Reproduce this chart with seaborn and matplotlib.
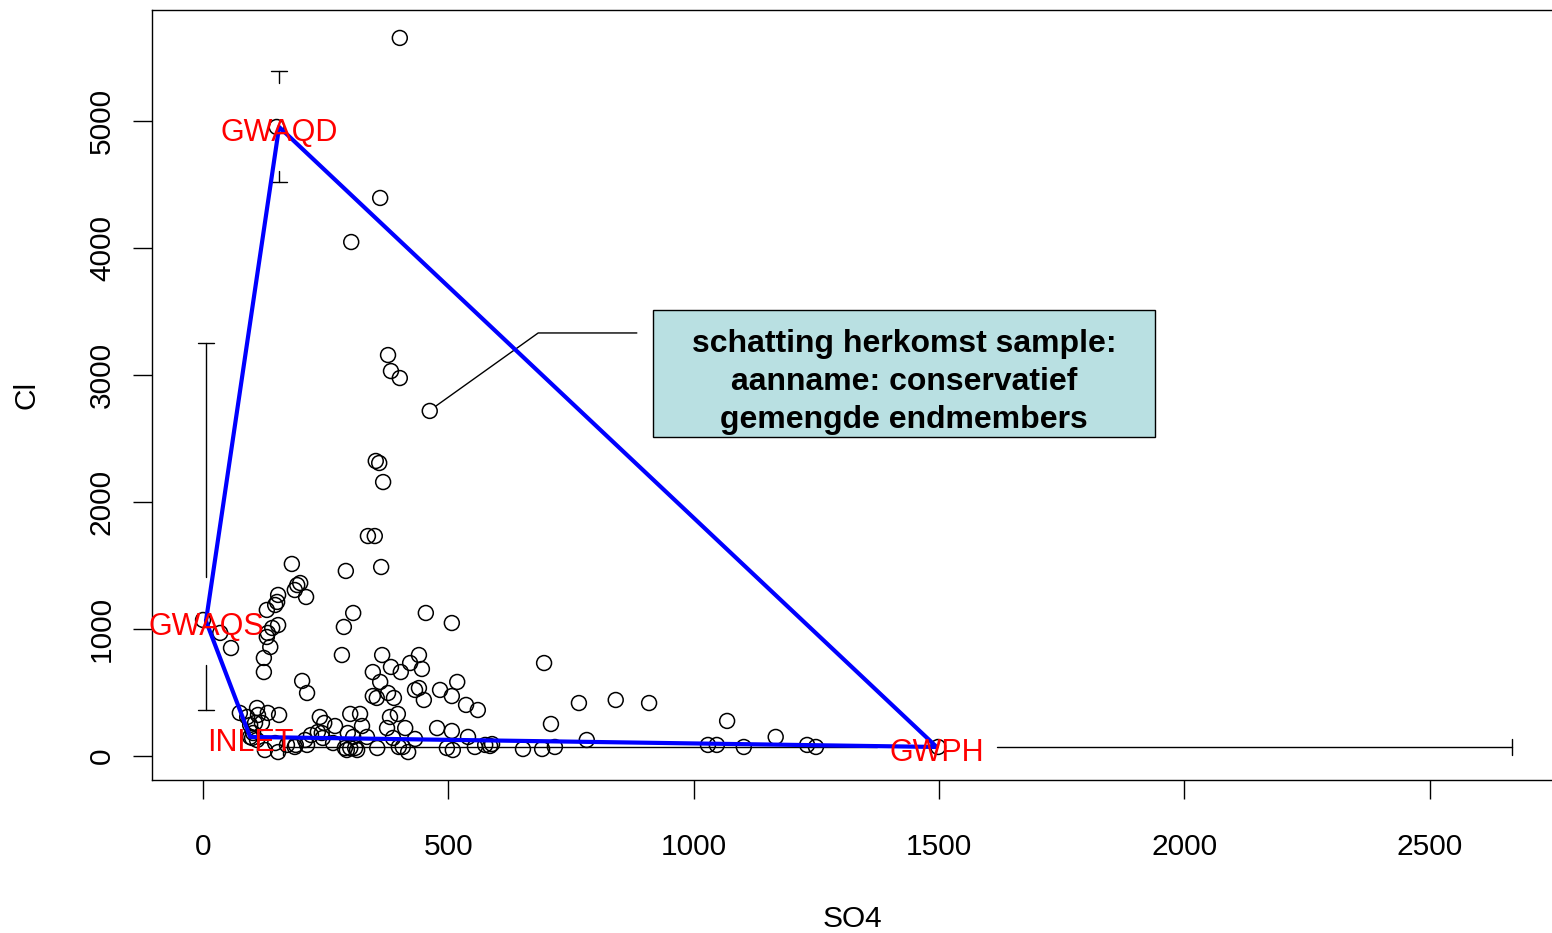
import numpy as np
import pandas as pd
import matplotlib
matplotlib.use('Agg')
import matplotlib.pyplot as plt
import matplotlib.transforms as mtransforms
from matplotlib.patches import Rectangle
import seaborn as sns

# samples: SO4 en Cl (mg/l)
so4 = [401, 361, 302, 377, 383, 401, 462, 352, 359, 367,
       336, 350, 363, 291, 181, 192, 198, 187, 210, 153,
       151, 147, 130, 153, 141, 132, 130, 137, 124, 124,
       35, 57, 202, 212, 306, 454, 507, 287, 283, 365,
       440, 422, 346, 383, 403, 446, 361, 518, 695, 346,
       354, 377, 389, 432, 440, 450, 483, 507, 536, 560,
       766, 841, 909, 709, 1068, 300, 320, 324, 381, 397,
       375, 412, 477, 507, 238, 247, 269, 220, 242, 295,
       306, 334, 387, 432, 540, 265, 289, 300, 310, 314,
       293, 355, 399, 407, 418, 497, 509, 554, 575, 585,
       589, 652, 691, 717, 782, 1029, 1047, 1102, 1167, 1231,
       1249, 1498, 189, 212, 244, 171, 153, 126, 147, 102,
       100, 110, 96, 110, 75, 90, 112, 132, 155, 106,
       120, 96, 234, 208, 187, 0, 150]
cl = [5654, 4394, 4047, 3157, 3031, 2976, 2717, 2323, 2307, 2157,
      1732, 1732, 1488, 1457, 1512, 1346, 1362, 1307, 1252, 1268,
      1213, 1189, 1150, 1031, 1008, 969, 937, 858, 772, 661,
      969, 850, 591, 496, 1126, 1126, 1047, 1016, 795, 795,
      795, 732, 661, 701, 661, 685, 583, 583, 732, 472,
      457, 496, 457, 520, 535, 441, 520, 472, 402, 362,
      417, 441, 417, 252, 276, 331, 331, 236, 307, 331,
      220, 220, 220, 197, 307, 260, 236, 165, 181, 181,
      150, 150, 142, 134, 150, 102, 63, 63, 63, 47,
      47, 63, 71, 71, 31, 63, 47, 71, 87, 79,
      94, 55, 55, 71, 126, 87, 87, 71, 150, 87,
      71, 71, 87, 87, 142, 87, 31, 47, 102, 181,
      142, 126, 150, 378, 339, 307, 323, 339, 323, 260,
      260, 244, 189, 126, 71, 1071, 4953]

# endmembers (polygoon volgorde)
em_names = ['GWAQS', 'GWAQD', 'GWPH', 'INLET']
em_so4 = [6, 155, 1495, 96]
em_cl = [1063, 4953, 71, 150]

# onzekerheid endmembers
gwaqd_cl_ci = [4520, 5394]
gwaqs_cl_ci = [362, 3252]
gwph_so4_ci = [163, 2667]

# sample met toelichting
sample_idx = 6
box_lines = ['schatting herkomst sample:', 'aanname: conservatief', 'gemengde endmembers']

df = pd.DataFrame({'SO4': so4, 'Cl': cl})

sns.set_style('white')
plt.rcParams['font.family'] = ['Liberation Sans', 'DejaVu Sans']
plt.rcParams['text.color'] = 'black'
plt.rcParams['axes.labelcolor'] = 'black'

W, H = 1552, 933
fig = plt.figure(figsize=(W / 100, H / 100), dpi=100)
ax = fig.add_axes([152 / W, 153 / H, 1401 / W, 770 / H])

sns.scatterplot(data=df, x='SO4', y='Cl', ax=ax, marker='o', s=115,
                facecolors='none', edgecolor='black', linewidth=1.1, zorder=3)

# polygoon endmembers
ax.plot(em_so4 + em_so4[:1], em_cl + em_cl[:1], color='blue', lw=3, zorder=4)

# foutenbalken met gat rond punt
gap_y, gap_x = 350, 122
cap_x, cap_y = 16, 65
ekw = dict(color='black', lw=1.0, zorder=2)
for xc, yc, (lo, hi) in [(em_so4[1], em_cl[1], gwaqd_cl_ci), (em_so4[0], em_cl[0], gwaqs_cl_ci)]:
    ax.plot([xc, xc], [hi, yc + gap_y], **ekw)
    ax.plot([xc, xc], [yc - gap_y, lo], **ekw)
    ax.plot([xc - cap_x, xc + cap_x], [hi, hi], **ekw)
    ax.plot([xc - cap_x, xc + cap_x], [lo, lo], **ekw)
xc, yc = em_so4[2], em_cl[2]
lo, hi = gwph_so4_ci
ax.plot([xc + gap_x, hi], [yc, yc], **ekw)
ax.plot([lo, xc - gap_x], [yc, yc], **ekw)
ax.plot([hi, hi], [yc - cap_y, yc + cap_y], **ekw)
ax.plot([lo, lo], [yc - cap_y, yc + cap_y], **ekw)

lab_tr = mtransforms.offset_copy(ax.transData, fig=fig, x=0, y=-6, units='dots')
for name, x, y in zip(em_names, em_so4, em_cl):
    ax.text(x, y, name, color='red', ha='center', va='center', fontsize=22,
            zorder=5, transform=lab_tr)

ax.set_xlim(-104, 2751)
ax.set_ylim(-189, 5874)
ax.set_xticks([0, 500, 1000, 1500, 2000, 2500])
ax.set_yticks([0, 1000, 2000, 3000, 4000, 5000])
ax.tick_params(axis='both', direction='out', length=14, width=1, colors='black',
               labelsize=21.5, bottom=True, left=True)
ax.tick_params(axis='x', pad=24)
ax.tick_params(axis='y', pad=12, labelrotation=90)
for t in ax.get_yticklabels():
    t.set_va('center')
ax.set_xlabel('SO4', fontsize=21.5, labelpad=32)
ax.set_ylabel('Cl', fontsize=21.5, labelpad=34)
for s in ax.spines.values():
    s.set_color('black')
    s.set_linewidth(1.0)

# toelichting
sx, sy = so4[sample_idx], cl[sample_idx]
ax.plot([sx + 13, 683, 884], [sy + 40, 3331, 3331], color='black', lw=1.0, zorder=2)
fig.add_artist(Rectangle((653 / W, (H - 437) / H), 502 / W, 127 / H,
                         transform=fig.transFigure, facecolor='#B9E0E2',
                         edgecolor='black', lw=1.0))
fig.text(904 / W, (H - 382) / H, '\n'.join(box_lines), ha='center', va='center',
         fontsize=23, fontweight='bold', linespacing=1.33, color='black')

fig.savefig('out.png', dpi=100)
